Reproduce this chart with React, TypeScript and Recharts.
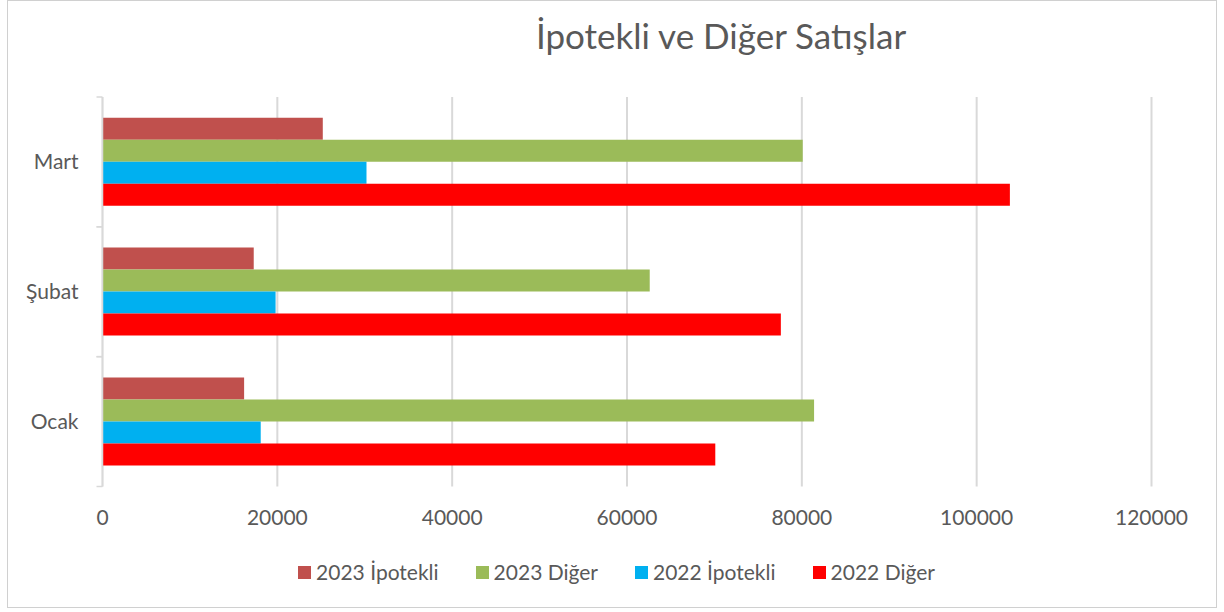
import { BarChart, Bar, XAxis, YAxis, CartesianGrid, Legend } from "recharts";

const months = ["Ocak", "Şubat", "Mart"];
const ipotekli2023 = [16200, 17300, 25200];
const diger2023 = [81400, 62600, 80100];
const ipotekli2022 = [18100, 19800, 30200];
const diger2022 = [70100, 77600, 103800];
const xTicks = [0, 20000, 40000, 60000, 80000, 100000, 120000];

const series = [
    { key: "ip23", name: "2023 İpotekli", color: "#C0504D", values: ipotekli2023 },
    { key: "di23", name: "2023 Diğer", color: "#9BBB59", values: diger2023 },
    { key: "ip22", name: "2022 İpotekli", color: "#00B0F0", values: ipotekli2022 },
    { key: "di22", name: "2022 Diğer", color: "#FF0000", values: diger2022 },
];

const data = months.map((m, i) => {
    const row: Record<string, string | number> = { month: m };
    series.forEach((s) => (row[s.key] = s.values[i]));
    return row;
});

const FONT = "Lato, 'Noto Sans', sans-serif";
const TEXT = "#595959";
const GRID = "#d9d9d9";
const TICK_MARGIN = 24;

function MonthTick(props: any) {
    const { x, y, payload } = props;
    const axisX = x + TICK_MARGIN;
    const half = payload.offset || 64.7;
    return (
        <g>
            <line x1={axisX - 6} x2={axisX} y1={y - half} y2={y - half} stroke={GRID} strokeWidth={1.5} />
            <line x1={axisX - 6} x2={axisX} y1={y + half} y2={y + half} stroke={GRID} strokeWidth={1.5} />
            <text x={x} y={y} dy="0.35em" textAnchor="end" fill={TEXT} fontSize={21} fontFamily={FONT}>
                {payload.value}
            </text>
        </g>
    );
}

function LegendRow() {
    return (
        <div
            style={{
                display: "flex",
                justifyContent: "center",
                paddingTop: 13,
                paddingLeft: 9,
                fontFamily: FONT,
                fontSize: 21,
                lineHeight: "24px",
                color: TEXT,
            }}
        >
            {series.map((s, i) => (
                <div key={s.key} style={{ display: "flex", alignItems: "center", marginLeft: i ? 37 : 0 }}>
                    <span style={{ width: 13, height: 13, background: s.color, marginRight: 5 }} />
                    <span>{s.name}</span>
                </div>
            ))}
        </div>
    );
}

export default function App() {
    return (
        <div
            style={{
                position: "absolute",
                left: 7,
                top: 0,
                width: 1210,
                height: 608,
                border: "1px solid #d0d0d0",
                boxSizing: "border-box",
                background: "#fff",
            }}
        >
            <div
                style={{
                    position: "absolute",
                    left: 721 - 8 - 300,
                    top: 13,
                    width: 600,
                    textAlign: "center",
                    fontFamily: FONT,
                    fontSize: 35,
                    color: TEXT,
                    lineHeight: "normal",
                }}
            >
                İpotekli ve Diğer Satışlar
            </div>
            <BarChart
                width={1208}
                height={606}
                data={data}
                layout="vertical"
                margin={{ top: 96, right: 64.5, bottom: 0, left: 0 }}
                barCategoryGap="16%"
                barGap={0}
            >
                <CartesianGrid horizontal={false} stroke={GRID} strokeWidth={2} />
                <XAxis
                    type="number"
                    domain={[0, 120000]}
                    ticks={xTicks}
                    axisLine={false}
                    tickLine={false}
                    tickSize={0}
                    tickMargin={24}
                    height={60.5}
                    tick={{ fill: TEXT, fontSize: 21, fontFamily: FONT }}
                />
                <YAxis
                    type="category"
                    dataKey="month"
                    reversed
                    width={94.5}
                    axisLine={{ stroke: GRID, strokeWidth: 1.5 }}
                    tickLine={false}
                    tickSize={0}
                    tickMargin={TICK_MARGIN}
                    tick={<MonthTick />}
                />
                <Legend
                    verticalAlign="bottom"
                    height={60}
                    wrapperStyle={{ left: 0, width: 1208, height: 60 }}
                    content={<LegendRow />}
                />
                {series.map((s) => (
                    <Bar key={s.key} dataKey={s.key} name={s.name} fill={s.color} isAnimationActive={false} />
                ))}
            </BarChart>
        </div>
    );
}
